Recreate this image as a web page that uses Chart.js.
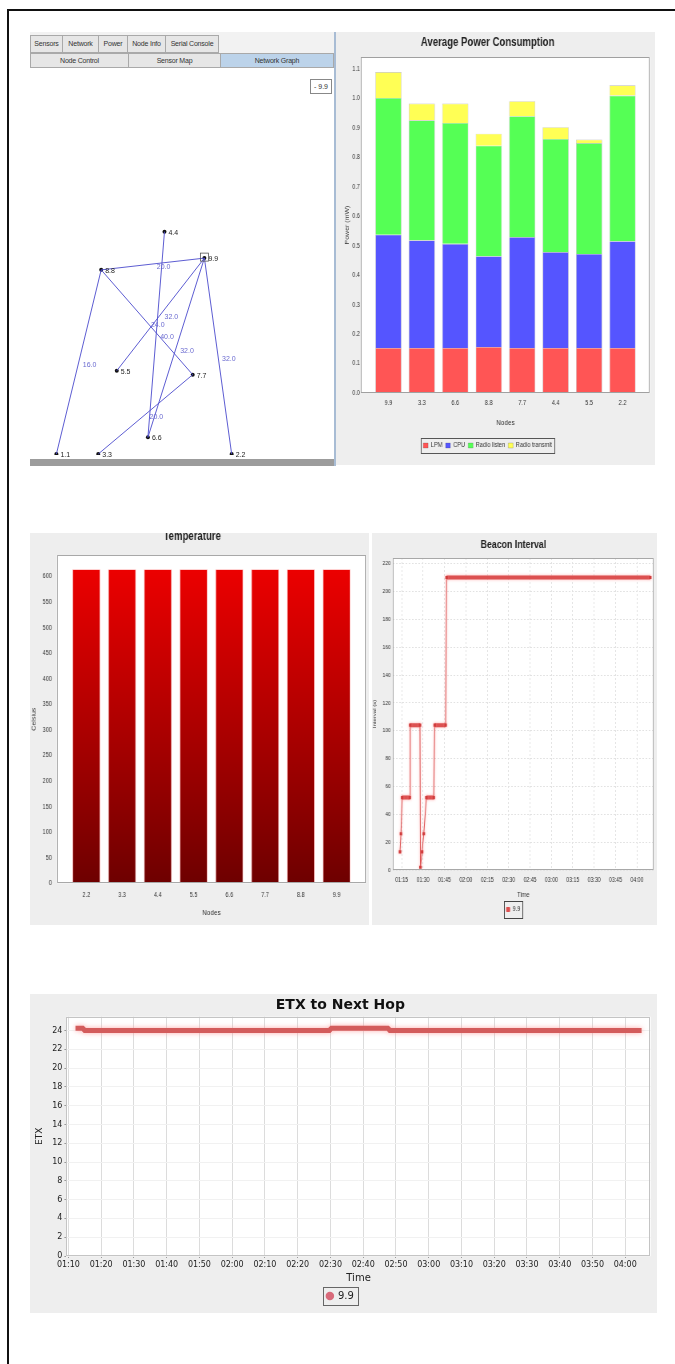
<!DOCTYPE html>
<html>
<head>
<meta charset="utf-8">
<script src="https://cdn.jsdelivr.net/npm/chart.js@4.4.0/dist/chart.umd.min.js"></script>
<style>
  html, body { margin: 0; padding: 0; background: #fff; }
  body { width: 675px; height: 1364px; position: relative; overflow: hidden;
         font-family: 'Liberation Sans', sans-serif; }
  .frame { position: absolute; left: 7px; top: 9px; width: 720px; height: 1400px;
           border-left: 2px solid #111; border-top: 2px solid #111; }
  .panel { position: absolute; background: #eeeeee; overflow: hidden; }
  .panel canvas { position: absolute; left: 0; top: 0; }
  .panel canvas.squeeze { transform: scaleX(0.8); transform-origin: 0 0; }
  .tab { position: absolute; box-sizing: border-box; border: 1px solid #a9a9a9; background: #e6e6e6;
         font-size: 7px; letter-spacing: -0.2px; color: #333; text-align: center; white-space: nowrap; overflow: hidden; }
  .tab.sel { background: #bcd3ea; }
</style>
</head>
<body>
<div class="frame"></div>

<!-- network graph panel -->
<div class="panel" id="netPanel" style="left:30px; top:32px; width:304px; height:434px; background:#f2f2f2;">
  <div class="tab" style="left:0; top:3px; width:33px; height:18px; line-height:16px;">Sensors</div>
  <div class="tab" style="left:32px; top:3px; width:37px; height:18px; line-height:16px;">Network</div>
  <div class="tab" style="left:68px; top:3px; width:30px; height:18px; line-height:16px;">Power</div>
  <div class="tab" style="left:97px; top:3px; width:39px; height:18px; line-height:16px;">Node Info</div>
  <div class="tab" style="left:135px; top:3px; width:54px; height:18px; line-height:16px;">Serial Console</div>
  <div class="tab" style="left:0; top:21px; width:99px; height:15px; line-height:13px;">Node Control</div>
  <div class="tab" style="left:98px; top:21px; width:93px; height:15px; line-height:13px;">Sensor Map</div>
  <div class="tab sel" style="left:190px; top:21px; width:114px; height:15px; line-height:13px;">Network Graph</div>
  <div style="position:absolute; left:0; top:36px; width:304px; height:391px; background:#fff;">
    <canvas id="netChart" width="304" height="391"></canvas>
  </div>
  <div style="position:absolute; left:280px; top:47px; width:22px; height:15px; box-sizing:border-box;
              border:1px solid #888; background:#fff; font-size:7px; line-height:13px; text-align:center; color:#333;">- 9.9</div>
  <div style="position:absolute; left:0; top:427px; width:304px; height:7px; background:#9c9c9c;"></div>
</div>
<div style="position:absolute; left:334px; top:32px; width:2px; height:434px; background:#a8bcd4;"></div>

<div class="panel" style="left:336px; top:32px; width:319px; height:433px;">
  <canvas id="powerChart" class="squeeze" width="399" height="433"></canvas>
</div>

<div class="panel" style="left:30px; top:533px; width:339px; height:392px;">
  <canvas id="tempChart" class="squeeze" width="424" height="399" style="top:-7px;"></canvas>
</div>

<div class="panel" style="left:372px; top:533px; width:285px; height:392px;">
  <canvas id="beaconChart" class="squeeze" width="356" height="392"></canvas>
</div>

<div class="panel" style="left:30px; top:994px; width:627px; height:319px;">
  <canvas id="etxChart" width="627" height="319"></canvas>
</div>

<script>
// ---- network graph (layout coordinates of the graph view) ----
const nodeNames = ['1.1', '2.2', '3.3', '4.4', '5.5', '6.6', '7.7', '8.8', '9.9'];
const nodeX = [23, 203, 66, 134, 85, 117, 163, 69, 175];
const nodeY = [390, 390, 390, 163, 305, 373, 309, 202, 190];
const edgeFrom = ['8.8', '8.8', '8.8', '9.9', '9.9', '9.9', '4.4', '7.7'];
const edgeTo = ['9.9', '1.1', '7.7', '5.5', '6.6', '2.2', '6.6', '3.3'];
const edgeEtx = ['20.0', '16.0', '24.0', '32.0', '32.0', '32.0', '40.0', '20.0'];

// ---- average power consumption ----
const powerNodes = ['9.9', '3.3', '6.6', '8.8', '7.7', '4.4', '5.5', '2.2'];
const lpm = [0.153, 0.153, 0.153, 0.156, 0.153, 0.153, 0.153, 0.153];
const cpu = [0.384, 0.365, 0.353, 0.308, 0.376, 0.325, 0.319, 0.362];
const radioListen = [0.464, 0.407, 0.410, 0.375, 0.410, 0.384, 0.376, 0.494];
const radioTransmit = [0.088, 0.057, 0.066, 0.041, 0.051, 0.040, 0.012, 0.035];
const powerTicks = [0.0, 0.1, 0.2, 0.3, 0.4, 0.5, 0.6, 0.7, 0.8, 0.9, 1.0, 1.1];

// ---- temperature ----
const tempNodes = ['2.2', '3.3', '4.4', '5.5', '6.6', '7.7', '8.8', '9.9'];
const tempValues = [614, 614, 614, 614, 614, 614, 614, 614];
const tempTicks = [0, 50, 100, 150, 200, 250, 300, 350, 400, 450, 500, 550, 600];

// ---- beacon interval (node 9.9) ----
const beaconTimes = ['01:13:50', '01:14:30', '01:15:20', '01:20:40', '01:21:00', '01:27:50', '01:28:10',
  '01:29:20', '01:30:30', '01:32:20', '01:37:30', '01:38:10', '01:45:50', '01:46:30', '04:09:20'];
const beaconValues = [13, 26, 52, 52, 104, 104, 2, 13, 26, 52, 52, 104, 104, 210, 210];
const beaconYTicks = [0, 20, 40, 60, 80, 100, 120, 140, 160, 180, 200, 220];
const beaconXTicks = ['01:15', '01:30', '01:45', '02:00', '02:15', '02:30', '02:45', '03:00',
  '03:15', '03:30', '03:45', '04:00'];

// ---- ETX to next hop (node 9.9) ----
const etxTimes = ['01:12:10', '01:14:20', '01:15:00', '02:29:40', '02:30:20', '02:47:30', '02:48:10', '04:05:00'];
const etxValues = [24.25, 24.25, 24.0, 24.0, 24.25, 24.25, 24.0, 24.0];
const etxYTicks = [0, 2, 4, 6, 8, 10, 12, 14, 16, 18, 20, 22, 24];
const etxXTicks = ['01:10', '01:20', '01:30', '01:40', '01:50', '02:00', '02:10', '02:20', '02:30',
  '02:40', '02:50', '03:00', '03:10', '03:20', '03:30', '03:40', '03:50', '04:00'];

const SANS = "'Liberation Sans', sans-serif";
const DEJAVU = "'DejaVu Sans', sans-serif";
Chart.defaults.font.family = SANS;
Chart.defaults.color = '#333';
Chart.defaults.animation = false;

function toMin(t) {
  const [h, m, s] = t.split(':').map(Number);
  return h * 60 + m + (s || 0) / 60;
}
function fmtMin(v) {
  const h = Math.floor(v / 60), m = Math.round(v - h * 60);
  return String(h).padStart(2, '0') + ':' + String(m).padStart(2, '0');
}
const fixW = w => s => { s.width = w; };
const fixH = h => s => { s.height = h; };
const useTicks = vals => s => { s.ticks = vals.map(v => ({ value: v })); };

// white plot area + outline like the java charts
const plotFrame = {
  id: 'plotFrame',
  beforeDraw(chart, args, o) {
    const a = chart.chartArea, c = chart.ctx, p = o.padX || 0;
    c.save();
    c.fillStyle = '#fff';
    c.fillRect(a.left - p, a.top, a.right - a.left + 2 * p, a.bottom - a.top);
    c.restore();
  },
  afterDraw(chart, args, o) {
    const a = chart.chartArea, c = chart.ctx, p = o.padX || 0;
    c.save();
    c.strokeStyle = o.border || '#999';
    c.lineWidth = 1;
    c.strokeRect(Math.round(a.left - p) + 0.5, Math.round(a.top) + 0.5,
      Math.round(a.right - a.left + 2 * p) - 1, Math.round(a.bottom - a.top) - 1);
    c.restore();
  }
};

// box around legend items
const legendBox = {
  id: 'legendBox',
  afterDraw(chart, args, o) {
    const hb = chart.legend && chart.legend.legendHitBoxes;
    if (!hb || !hb.length) return;
    const x0 = Math.min(...hb.map(b => b.left)), x1 = Math.max(...hb.map(b => b.left + b.width));
    const y0 = Math.min(...hb.map(b => b.top)), y1 = Math.max(...hb.map(b => b.top + b.height));
    const c = chart.ctx, px = o.padX || 3, py = o.padY || 3;
    c.save();
    c.strokeStyle = o.color || '#555';
    c.lineWidth = 1;
    c.strokeRect(Math.round(x0 - px) + 0.5, Math.round(y0 - py) + 0.5,
      Math.round(x1 - x0 + 2 * px), Math.round(y1 - y0 + 2 * py));
    c.restore();
  }
};

const bandGlow = {
  id: 'bandGlow',
  beforeDatasetsDraw(chart, args, o) {
    const c = chart.ctx;
    c.save();
    c.shadowColor = o.color;
    c.shadowBlur = o.blur;
  },
  afterDatasetsDraw(chart) { chart.ctx.restore(); }
};

// ---------------- network graph ----------------
const edgeColor = 'rgba(75, 75, 205, 0.9)';
const edgeSets = edgeFrom.map((f, i) => {
  const a = nodeNames.indexOf(f), b = nodeNames.indexOf(edgeTo[i]);
  return {
    label: edgeEtx[i],
    data: [{ x: nodeX[a], y: nodeY[a] }, { x: nodeX[b], y: nodeY[b] }],
    showLine: true, borderColor: edgeColor, borderWidth: 1, pointRadius: 0
  };
});

const graphLabels = {
  id: 'graphLabels',
  afterDatasetsDraw(chart) {
    const c = chart.ctx;
    c.save();
    c.font = '7px ' + SANS;
    c.textBaseline = 'middle';
    chart.data.datasets.forEach((ds, i) => {
      const pts = chart.getDatasetMeta(i).data;
      if (ds.isNodes) {
        c.fillStyle = '#222';
        pts.forEach((p, j) => c.fillText(nodeNames[j], p.x + 4, p.y + 1));
        const k = nodeNames.indexOf('9.9');
        c.strokeStyle = '#555';
        c.lineWidth = 0.8;
        c.strokeRect(pts[k].x - 4, pts[k].y - 5, 8, 8);
      } else {
        const mx = (pts[0].x + pts[1].x) / 2, my = (pts[0].y + pts[1].y) / 2;
        c.fillStyle = '#6a6ad0';
        c.fillText(ds.label, mx + 4, my + 3);
      }
    });
    c.restore();
  }
};

new Chart(document.getElementById('netChart'), {
  type: 'scatter',
  data: {
    datasets: [...edgeSets, {
      label: 'nodes', isNodes: true,
      data: nodeNames.map((n, i) => ({ x: nodeX[i], y: nodeY[i] })),
      pointRadius: 2, pointBackgroundColor: '#111', pointBorderWidth: 0
    }]
  },
  options: {
    responsive: false,
    layout: { padding: 0 },
    plugins: { legend: { display: false }, tooltip: { enabled: false } },
    scales: {
      x: { type: 'linear', min: 0, max: 304, display: false },
      y: { type: 'linear', min: 0, max: 391, reverse: true, display: false }
    }
  },
  plugins: [graphLabels]
});

// ---------------- average power consumption ----------------
// canvas is squeezed to 80% width, so x sizes below are real px / 0.8
const barEdge = 'rgba(60, 60, 60, 0.35)';
new Chart(document.getElementById('powerChart'), {
  type: 'bar',
  data: {
    labels: powerNodes,
    datasets: [
      { label: 'LPM', data: lpm, backgroundColor: '#ff5555' },
      { label: 'CPU', data: cpu, backgroundColor: '#5555ff' },
      { label: 'Radio listen', data: radioListen, backgroundColor: '#55ff55' },
      { label: 'Radio transmit', data: radioTransmit, backgroundColor: '#ffff55' }
    ].map(d => Object.assign(d, { borderColor: barEdge, borderWidth: 0.6,
      categoryPercentage: 1, barPercentage: 0.78 }))
  },
  options: {
    responsive: false,
    layout: { padding: { left: 0, right: 19.9, top: 0, bottom: 6 } },
    plugins: {
      title: { display: true, text: 'Average Power Consumption', color: '#222',
        font: { size: 12, weight: 'bold' }, padding: { top: 3.8, bottom: 6.8 } },
      legend: { position: 'bottom',
        labels: { font: { size: 7 }, boxWidth: 6, boxHeight: 5, padding: 4, color: '#333' } },
      tooltip: { enabled: false },
      plotFrame: { padX: 13.4, border: '#a0a0a0' },
      legendBox: { padX: 3, padY: 4, color: '#555' }
    },
    scales: {
      x: { stacked: true, grid: { display: false, drawTicks: false }, border: { display: false },
        ticks: { font: { size: 7 }, padding: 5.8 },
        title: { display: true, text: 'Nodes', font: { size: 8 }, padding: { top: 0, bottom: 10 } },
        afterFit: fixH(45) },
      y: { stacked: true, min: 0, max: 1.14, grid: { display: false, drawTicks: false },
        border: { display: false },
        afterBuildTicks: useTicks(powerTicks),
        ticks: { font: { size: 7 }, padding: 14.6, callback: v => v.toFixed(1) },
        title: { display: true, text: 'Power (mW)', font: { size: 7 }, padding: { top: 9.5, bottom: 0 } },
        afterFit: fixW(44.6) }
    }
  },
  plugins: [plotFrame, legendBox]
});

// ---------------- temperature ----------------
new Chart(document.getElementById('tempChart'), {
  type: 'bar',
  data: {
    labels: tempNodes,
    datasets: [{
      label: 'Temperature', data: tempValues,
      backgroundColor: ctx => {
        const a = ctx.chart.chartArea;
        if (!a) return '#c00000';
        const g = ctx.chart.ctx.createLinearGradient(0, a.top, 0, a.bottom);
        g.addColorStop(0, '#f20000');
        g.addColorStop(1, '#6e0000');
        return g;
      },
      borderColor: 'rgba(255, 110, 110, 0.55)', borderWidth: 0.8,
      categoryPercentage: 1, barPercentage: 0.778
    }]
  },
  options: {
    responsive: false,
    layout: { padding: { left: 0, right: 18.4, top: 0, bottom: 0 } },
    plugins: {
      title: { display: true, text: 'Temperature', color: '#222',
        font: { size: 12, weight: 'bold' }, padding: { top: 3.5, bottom: 11.1 } },
      legend: { display: false },
      tooltip: { enabled: false },
      plotFrame: { padX: 14.4, border: '#a8a8a8' }
    },
    scales: {
      x: { grid: { display: false, drawTicks: false }, border: { display: false },
        ticks: { font: { size: 7 }, padding: 7.5 },
        title: { display: true, text: 'Nodes', font: { size: 8 }, padding: { top: 0, bottom: 7.2 } },
        afterFit: fixH(41.7) },
      y: { min: 0, max: 642, grid: { display: false, drawTicks: false }, border: { display: false },
        afterBuildTicks: useTicks(tempTicks),
        ticks: { font: { size: 7 }, padding: 20.6 },
        title: { display: true, text: 'Celsius', font: { size: 7 }, padding: { top: 0.8, bottom: 0 } },
        afterFit: fixW(48.1) }
    }
  },
  plugins: [plotFrame]
});

// ---------------- beacon interval ----------------
const beaconRed = '#dc5050';
new Chart(document.getElementById('beaconChart'), {
  type: 'line',
  data: {
    datasets: [{
      label: '9.9',
      data: beaconTimes.map((t, i) => ({ x: toMin(t), y: beaconValues[i] })),
      borderColor: beaconRed, backgroundColor: beaconRed,
      borderWidth: 1, borderCapStyle: 'butt',
      segment: { borderWidth: s => (s.p0.parsed.y === s.p1.parsed.y ? 4 : 1) },
      pointStyle: 'rect', pointRadius: 2.2, pointBackgroundColor: '#d03c3c', pointBorderWidth: 0,
      tension: 0
    }]
  },
  options: {
    responsive: false,
    layout: { padding: { left: 0, right: 2.5, top: 0, bottom: 2 } },
    plugins: {
      title: { display: true, text: 'Beacon Interval', color: '#222',
        font: { size: 11, weight: 'bold' }, padding: { top: 5.4, bottom: 6.4 } },
      legend: { position: 'bottom',
        labels: { font: { size: 7 }, boxWidth: 4, boxHeight: 4, padding: 4, color: '#333' } },
      tooltip: { enabled: false },
      plotFrame: { border: '#a8a8a8' },
      legendBox: { padX: 3, padY: 5, color: '#444' },
      bandGlow: { color: 'rgba(255, 140, 140, 0.7)', blur: 3 }
    },
    scales: {
      x: { type: 'linear', min: toMin('01:08:55'), max: toMin('04:11:40'),
        grid: { color: '#e2e2e2', drawTicks: false }, border: { display: false, dash: [2, 2] },
        afterBuildTicks: useTicks(beaconXTicks.map(toMin)),
        ticks: { font: { size: 6.5 }, padding: 6.7, maxRotation: 0, autoSkip: false, callback: v => fmtMin(v) },
        title: { display: true, text: 'Time', font: { size: 7 }, padding: { top: 0, bottom: 2.5 } },
        afterFit: fixH(32) },
      y: { min: 0, max: 224, grid: { color: '#e2e2e2', drawTicks: false }, border: { display: false, dash: [2, 2] },
        afterBuildTicks: useTicks(beaconYTicks),
        ticks: { font: { size: 6 }, padding: 2.9 },
        title: { display: true, text: 'Interval (s)', font: { size: 6 }, padding: { top: 0.2, bottom: 0 } },
        afterFit: fixW(26.25) }
    }
  },
  plugins: [plotFrame, legendBox, bandGlow]
});

// ---------------- ETX to next hop ----------------
const etxRed = '#d35c5c';
new Chart(document.getElementById('etxChart'), {
  type: 'line',
  data: {
    datasets: [{
      label: '9.9',
      data: etxTimes.map((t, i) => ({ x: toMin(t), y: etxValues[i] })),
      borderColor: etxRed, backgroundColor: etxRed, borderWidth: 5, borderCapStyle: 'butt',
      pointRadius: 0, pointStyle: 'circle', tension: 0
    }]
  },
  options: {
    responsive: false,
    layout: { padding: { left: 0, right: 6.3, top: 0, bottom: 2 } },
    plugins: {
      title: { display: true, text: 'ETX to Next Hop', color: '#111',
        font: { family: DEJAVU, size: 14, weight: 'bold' }, padding: { top: 2.6, bottom: 3.3 } },
      legend: { position: 'bottom',
        labels: { font: { family: DEJAVU, size: 10 }, usePointStyle: true, boxWidth: 6, boxHeight: 6,
          padding: 5, color: '#222',
          generateLabels: chart => Chart.defaults.plugins.legend.labels.generateLabels(chart)
            .map(l => Object.assign(l, { lineWidth: 0, fillStyle: '#d86a7a' })) } },
      tooltip: { enabled: false },
      plotFrame: { border: '#c4c4c4' },
      legendBox: { padX: 4, padY: 4, color: '#666' },
      bandGlow: { color: 'rgba(255, 150, 150, 0.8)', blur: 5 }
    },
    scales: {
      x: { type: 'linear', min: toMin('01:09:23'), max: toMin('04:07:47'),
        grid: { color: '#dcdcdc', drawTicks: true, tickLength: 2, tickColor: '#999' },
        border: { display: false },
        afterBuildTicks: useTicks(etxXTicks.map(toMin)),
        ticks: { font: { family: DEJAVU, size: 8 }, padding: 2, maxRotation: 0, autoSkip: false, color: '#222',
          callback: v => fmtMin(v) },
        title: { display: true, text: 'Time', color: '#222', font: { family: DEJAVU, size: 10 },
          padding: { top: 0, bottom: 1.3 } },
        afterFit: fixH(30) },
      y: { min: 0, max: 25.47, grid: { color: '#f1f1f1', drawTicks: true, tickLength: 2, tickColor: '#999' },
        border: { display: false },
        afterBuildTicks: useTicks(etxYTicks),
        ticks: { font: { family: DEJAVU, size: 8 }, padding: 2, color: '#222' },
        title: { display: true, text: 'ETX', color: '#222', font: { family: DEJAVU, size: 9 },
          padding: { top: 4.6, bottom: 0 } },
        afterFit: fixW(36.4) }
    }
  },
  plugins: [plotFrame, legendBox, bandGlow]
});
</script>
</body>
</html>
